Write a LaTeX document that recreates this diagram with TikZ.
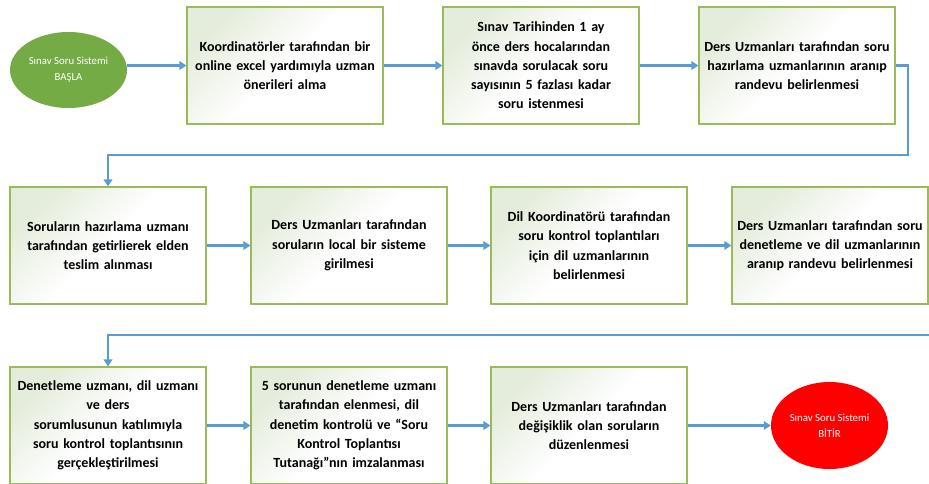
\documentclass[tikz,border=0pt]{standalone}
\usepackage{fontspec}
\setmainfont{Carlito}
\usetikzlibrary{arrows.meta,shapes.geometric}
\definecolor{boxborder}{HTML}{9BBB59}
\definecolor{boxfill}{HTML}{E4ECDB}
\definecolor{arrowblue}{HTML}{5B9BD5}
\definecolor{startgreen}{HTML}{74AB45}
\definecolor{endred}{HTML}{FF0000}
\tikzset{
  stepbox/.style={draw=boxborder, line width=1.1pt, top color=boxfill, bottom color=white, middle color=white, shading angle=45,
    minimum width=196pt, minimum height=117pt, text width=190pt, align=center,
    font=\fontsize{14}{19.3}\selectfont\bfseries, inner sep=0pt},
  termnode/.style={ellipse, minimum width=117pt, text=white, align=center,
    font=\fontsize{10.8}{16}\selectfont, inner sep=0pt},
  arr/.style={draw=arrowblue, line width=2.6pt, -{Triangle[length=7pt,width=8.5pt]}},
}
\begin{document}
\begin{tikzpicture}[x=1pt,y=-1pt]
\useasboundingbox (0,0) rectangle (929,483);
\clip (0,0) rectangle (929,483);
\node[termnode, fill=startgreen, minimum height=76pt] (start) at (68.5,70) {Sınav Soru Sistemi\\BAŞLA};
\node[stepbox] (b1) at (285,65.5) {Koordinatörler tarafından bir\\online excel yardımıyla uzman\\önerileri alma};
\node[stepbox] (b2) at (541,65.5) {Sınav Tarihinden 1 ay\\önce ders hocalarından\\sınavda sorulacak soru\\sayısının 5 fazlası kadar\\soru istenmesi};
\node[stepbox] (b3) at (797,65.5) {Ders Uzmanları tarafından soru\\hazırlama uzmanlarının aranıp\\randevu belirlenmesi};
\node[stepbox] (b4) at (108,245.5) {Soruların hazırlama uzmanı\\tarafından getirlierek elden\\teslim alınması};
\node[stepbox] (b5) at (349,245.5) {Ders Uzmanları tarafından\\soruların local bir sisteme\\girilmesi};
\node[stepbox] (b6) at (589,245.5) {Dil Koordinatörü tarafından\\soru kontrol toplantıları\\için dil uzmanlarının\\belirlenmesi};
\node[stepbox] (b7) at (830,245.5) {Ders Uzmanları tarafından soru\\denetleme ve dil uzmanlarının\\aranıp randevu belirlenmesi};
\node[stepbox] (b8) at (108,425.5) {Denetleme uzmanı, dil uzmanı\\ve ders\\sorumlusunun katılımıyla\\soru kontrol toplantısının\\gerçekleştirilmesi};
\node[stepbox] (b9) at (349,425.5) {5 sorunun denetleme uzmanı\\tarafından elenmesi, dil\\denetim kontrolü ve “Soru\\Kontrol Toplantısı\\Tutanağı”nın imzalanması};
\node[stepbox] (b10) at (589,425.5) {Ders Uzmanları tarafından\\değişiklik olan soruların\\düzenlenmesi};
\node[termnode, fill=endred, minimum height=87pt] (end) at (829.5,425.5) {Sınav Soru Sistemi\\BİTİR};
\coordinate (t1) at (908,155);
\coordinate (t2) at (945,335);
\draw[arr] (start.east |- b1.west) -- (b1.west);
\draw[arr] (b1) -- (b2);
\draw[arr] (b2) -- (b3);
\draw[arr] (b3.east) -| (t1) -| (b4.north);
\draw[arr] (b4) -- (b5);
\draw[arr] (b5) -- (b6);
\draw[arr] (b6) -- (b7);
\draw[arr] (b7.east) -| (t2) -| (b8.north);
\draw[arr] (b8) -- (b9);
\draw[arr] (b9) -- (b10);
\draw[arr] (b10) -- (end);
\end{tikzpicture}
\end{document}
